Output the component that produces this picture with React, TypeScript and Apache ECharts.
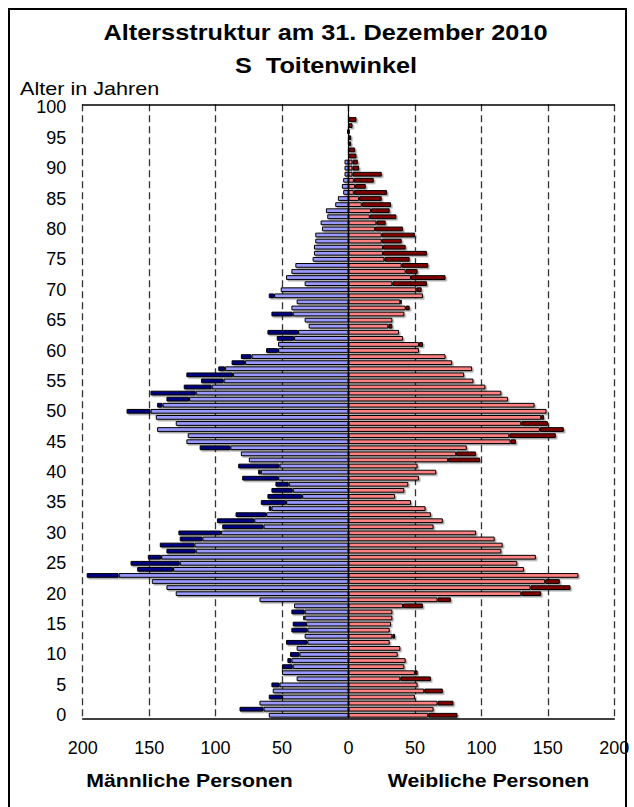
import React, { useEffect, useRef } from "react";
import * as echarts from "echarts";

// Ages 0..100 (category axis, bottom to top)
const ages: string[] = Array.from({ length: 101 }, (_, i) => String(i));

// Total persons per age (index = age)
const male: number[] = [
  60, 82, 67, 60, 57, 58, 39, 50, 50, 46,
  44, 39, 47, 33, 43, 42, 34, 43, 41, 67,
  130, 137, 148, 197, 159, 164, 151, 137, 142, 127,
  128, 95, 99, 85, 60, 66, 61, 58, 55, 80,
  68, 83, 75, 81, 112, 122, 121, 144, 130, 145,
  167, 144, 137, 149, 124, 111, 122, 98, 88, 81,
  62, 53, 54, 61, 30, 33, 58, 43, 39, 60,
  51, 33, 47, 43, 40, 27, 26, 26, 25, 25,
  20, 21, 16, 17, 10, 8, 4, 5, 4, 3,
  3, 3, 0, 0, 0, 0, 1, 0, 0, 0,
  0,
];

const female: number[] = [
  82, 64, 79, 50, 71, 52, 62, 52, 42, 43,
  37, 39, 31, 35, 31, 32, 33, 33, 56, 77,
  145, 167, 159, 173, 132, 127, 141, 115, 116, 110,
  96, 64, 71, 62, 58, 47, 35, 42, 45, 53,
  66, 52, 99, 96, 89, 126, 156, 162, 150, 147,
  149, 140, 120, 115, 103, 94, 87, 93, 78, 73,
  53, 56, 41, 38, 33, 33, 42, 46, 40, 56,
  55, 59, 73, 52, 60, 46, 59, 43, 40, 50,
  41, 28, 36, 31, 32, 25, 29, 13, 19, 25,
  8, 7, 6, 5, 2, 2, 1, 3, 6, 0,
  0,
];

const xMin = -200;
const xMax = 200;
const xInterval = 50;

const titleLine1 = "Altersstruktur am 31. Dezember 2010";
const titleLine2 = "S  Toitenwinkel";
const yAxisTitle = "Alter in Jahren";
const maleLabel = "Männliche Personen";
const femaleLabel = "Weibliche Personen";

const FONT = "'Liberation Sans', Arial, Helvetica, sans-serif";

export default function App() {
  const ref = useRef<HTMLDivElement>(null);

  useEffect(() => {
    document.body.style.margin = "0";
    if (!ref.current) return;
    const chart = echarts.init(ref.current, null, { renderer: "svg" });

    // common part (light) and surplus part (dark) for each side
    const mLight = male.map((m, i) => {
      const v = Math.min(m, female[i]);
      return v > 0 ? -v : null;
    });
    const mDark = male.map((m, i) => (m > female[i] ? -(m - female[i]) : null));
    const fLight = female.map((f, i) => {
      const v = Math.min(f, male[i]);
      return v > 0 ? v : null;
    });
    const fDark = female.map((f, i) => (f > male[i] ? f - male[i] : null));

    const barBase = {
      type: "bar" as const,
      barCategoryGap: "22%",
      barGap: "-100%",
      silent: true,
    };
    const itemBase = {
      borderColor: "#000",
      borderWidth: 1,
      shadowColor: "rgba(0,0,0,0.35)",
      shadowOffsetX: 1.5,
      shadowOffsetY: 1.5,
      shadowBlur: 0,
    };

    const textEl = (
      text: string,
      x: number,
      y: number,
      size: number,
      bold: boolean,
      align: string,
      sx: number
    ) => ({
      type: "text",
      x,
      y,
      scaleX: sx,
      silent: true,
      style: {
        text,
        fontSize: size,
        fontWeight: bold ? "bold" : "normal",
        fontFamily: FONT,
        fill: "#000",
        textAlign: align,
        verticalAlign: "middle",
      },
    });

    chart.setOption({
      animation: false,
      backgroundColor: "#fff",
      grid: { left: 82.7, right: 19.7, top: 104.3, bottom: 88.7, containLabel: false },
      xAxis: [
        {
          type: "value",
          min: xMin,
          max: xMax,
          interval: xInterval,
          position: "bottom",
          axisLine: { show: true, onZero: false, lineStyle: { color: "#000", width: 1.5 } },
          axisTick: { show: false },
          axisLabel: {
            formatter: (v: number) => String(Math.abs(v)),
            color: "#000",
            fontSize: 18,
            fontFamily: FONT,
            margin: 21,
          },
          splitLine: {
            show: true,
            lineStyle: { color: "#333", type: [7, 4], width: 1.3 },
          },
        },
        {
          type: "value",
          min: xMin,
          max: xMax,
          interval: xInterval,
          position: "top",
          axisLine: { show: true, onZero: false, lineStyle: { color: "#000", width: 1.5 } },
          axisTick: { show: false },
          axisLabel: { show: false },
          splitLine: { show: false },
        },
      ],
      yAxis: {
        type: "category",
        data: ages,
        axisLine: { show: false },
        axisTick: { show: false },
        splitLine: { show: false },
        axisLabel: {
          interval: 4,
          color: "#000",
          fontSize: 18,
          fontFamily: FONT,
          margin: 16.5,
        },
      },
      series: [
        {
          ...barBase,
          name: "Männlich",
          stack: "m",
          data: mLight,
          itemStyle: { ...itemBase, color: "#9999FF" },
        },
        {
          ...barBase,
          name: "Männlich Überschuss",
          stack: "m",
          data: mDark,
          itemStyle: { ...itemBase, color: "#000080" },
        },
        {
          ...barBase,
          name: "Weiblich",
          stack: "f",
          data: fLight,
          itemStyle: { ...itemBase, color: "#FF8080" },
          markLine: {
            silent: true,
            symbol: ["none", "none"],
            label: { show: false },
            lineStyle: { color: "#000", type: "solid", width: 1.2 },
            data: [{ xAxis: 0 }],
          },
        },
        {
          ...barBase,
          name: "Weiblich Überschuss",
          stack: "f",
          data: fDark,
          itemStyle: { ...itemBase, color: "#800000" },
        },
      ],
      graphic: [
        {
          type: "rect",
          silent: true,
          shape: { x: 9, y: 9, width: 617, height: 820 },
          style: { fill: "none", stroke: "#000", lineWidth: 2 },
        },
        textEl(titleLine1, 325.5, 33, 22, true, "center", 1.15),
        textEl(titleLine2, 326, 66, 22, true, "center", 1.15),
        textEl(yAxisTitle, 20, 89, 18, false, "left", 1.2),
        textEl(maleLabel, 189.5, 781, 18, true, "center", 1.18),
        textEl(femaleLabel, 488.5, 781, 18, true, "center", 1.18),
      ],
    });

    return () => {
      chart.dispose();
    };
  }, []);

  return <div ref={ref} style={{ width: 634, height: 807 }} />;
}
